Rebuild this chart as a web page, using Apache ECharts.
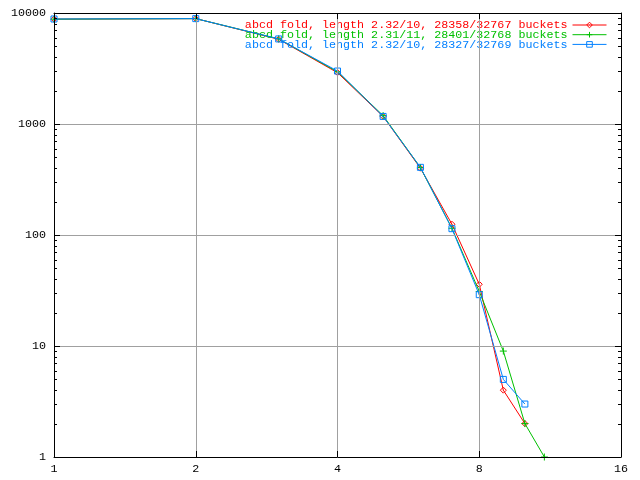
<!DOCTYPE html>
<html><head><meta charset="utf-8">
<script src="https://cdn.jsdelivr.net/npm/echarts@6/dist/echarts.min.js"></script>
<style>html,body{margin:0;padding:0;background:#fff}#c{width:640px;height:480px}</style>
</head><body><div id="c"></div>
<script>
// Chain length (x) and number of buckets with that length (y)
const lengths = [1, 2, 3, 4, 5, 6, 7, 8, 9, 10, 11];
const redCounts = [8800, 8900, 5800, 2900, 1170, 400, 125, 36, 4, 2];
const greenCounts = [8800, 8900, 5850, 2950, 1190, 405, 115, 31, 9, 2, 1];
const blueCounts = [8830, 8900, 5840, 3000, 1170, 407, 114, 29, 5, 3];
const seriesNames = [
  'abcd fold, length 2.32/10, 28358/32767 buckets',
  'abcd fold, length 2.31/11, 28401/32768 buckets',
  'abcd fold, length 2.32/10, 28327/32769 buckets'
];
const xTickLabels = [1, 2, 4, 8, 16];
const yTickLabels = [1, 10, 100, 1000, 10000];
const yMinorTicks = [2, 3, 4, 5, 6, 7, 8, 9, 20, 30, 40, 50, 60, 70, 80, 90,
  200, 300, 400, 500, 600, 700, 800, 900, 2000, 3000, 4000, 5000, 6000, 7000, 8000, 9000];

const colors = ['#ff0000', '#00c000', '#0080ff'];
const FONT = 'Liberation Mono';
const symbols = [
  'path://M5,0L10,5L5,10L0,5ZM5,4.5L5,5.5',
  'path://M0,5L10,5M5,0L5,10',
  'path://M0,0L10,0L10,10L0,10Z'
];
const symbolSizes = [6, 7, 6];

function pairs(vals) { return vals.map((v, i) => [lengths[i], v]); }
const allCounts = [redCounts, greenCounts, blueCounts];

const chart = echarts.init(document.getElementById('c'), null, { renderer: 'canvas' });
const xCommon = { type: 'log', logBase: 2, min: 1, max: 16, interval: 1 };
const yCommon = { type: 'log', logBase: 10, min: 1, max: 10000, interval: 1 };
const xMin = xTickLabels[0], xMax = xTickLabels[xTickLabels.length - 1];

const lineSeries = seriesNames.map((n, i) => ({
  name: n, type: 'line', xAxisIndex: 0, yAxisIndex: 0,
  data: pairs(allCounts[i]),
  symbol: symbols[i], symbolSize: symbolSizes[i], showSymbol: true,
  color: colors[i],
  lineStyle: { color: colors[i], width: 1 },
  itemStyle: { color: 'rgba(255,255,255,0)', borderColor: colors[i], borderWidth: 1 },
  z: 2 + i,
  clip: false
}));

chart.setOption({
  animation: false,
  backgroundColor: '#fff',
  grid: { left: 54, right: 19, top: 13, bottom: 23, containLabel: false, outerBoundsMode: 'none' },
  xAxis: [
    Object.assign({}, xCommon, {
      position: 'bottom',
      axisLine: { show: true, lineStyle: { color: '#000', width: 1 } },
      axisTick: { show: true, inside: true, length: 6, lineStyle: { color: '#000' } },
      axisLabel: { show: true, margin: 6, color: '#000', fontFamily: FONT, fontSize: 11.7,
        formatter: v => String(Math.round(v)) },
      splitLine: { show: true, lineStyle: { color: '#a0a0a0', width: 1 } },
      z: 5
    }),
    Object.assign({}, xCommon, {
      position: 'top',
      axisLine: { show: true, lineStyle: { color: '#000', width: 1 } },
      axisTick: { show: true, inside: true, length: 6, lineStyle: { color: '#000' } },
      axisLabel: { show: false },
      splitLine: { show: false },
      z: 5
    })
  ],
  yAxis: [
    Object.assign({}, yCommon, {
      position: 'left',
      axisLine: { show: true, lineStyle: { color: '#000', width: 1 } },
      axisTick: { show: true, inside: true, length: 6, lineStyle: { color: '#000' } },
      axisLabel: { show: true, margin: 8, color: '#000', fontFamily: FONT, fontSize: 11.7,
        formatter: v => String(Math.round(v)) },
      splitLine: { show: true, lineStyle: { color: '#a0a0a0', width: 1 } },
      z: 5
    }),
    Object.assign({}, yCommon, {
      position: 'right',
      axisLine: { show: true, lineStyle: { color: '#000', width: 1 } },
      axisTick: { show: true, inside: true, length: 6, lineStyle: { color: '#000' } },
      axisLabel: { show: false },
      splitLine: { show: false },
      z: 5
    })
  ],
  legend: {
    orient: 'vertical', right: 33, top: 19, align: 'right', padding: 0,
    itemWidth: 34, itemHeight: 7, itemGap: -2.3,
    lineStyle: { width: 1 },
    itemStyle: { color: 'rgba(255,255,255,0)', borderWidth: 1 },
    textStyle: { fontFamily: FONT, fontSize: 11.7 },
    data: seriesNames.map((n, i) => ({ name: n, textStyle: { color: colors[i] } }))
  },
  series: lineSeries
});

// Minor ticks on the log y axis (inside, both sides), placed through the chart's own scales
const tickGraphics = [];
yMinorTicks.forEach(v => {
  const l = chart.convertToPixel({ xAxisIndex: 0, yAxisIndex: 0 }, [xMin, v]);
  const r = chart.convertToPixel({ xAxisIndex: 0, yAxisIndex: 0 }, [xMax, v]);
  if (!l || !r) return;
  const y = Math.round(l[1]) + 0.5;
  tickGraphics.push({ type: 'line', silent: true, z: 20,
    shape: { x1: l[0], y1: y, x2: l[0] + 3, y2: y }, style: { stroke: '#000', lineWidth: 1 } });
  tickGraphics.push({ type: 'line', silent: true, z: 20,
    shape: { x1: r[0] - 3, y1: y, x2: r[0], y2: y }, style: { stroke: '#000', lineWidth: 1 } });
});
chart.setOption({ graphic: tickGraphics });
</script>
</body></html>
